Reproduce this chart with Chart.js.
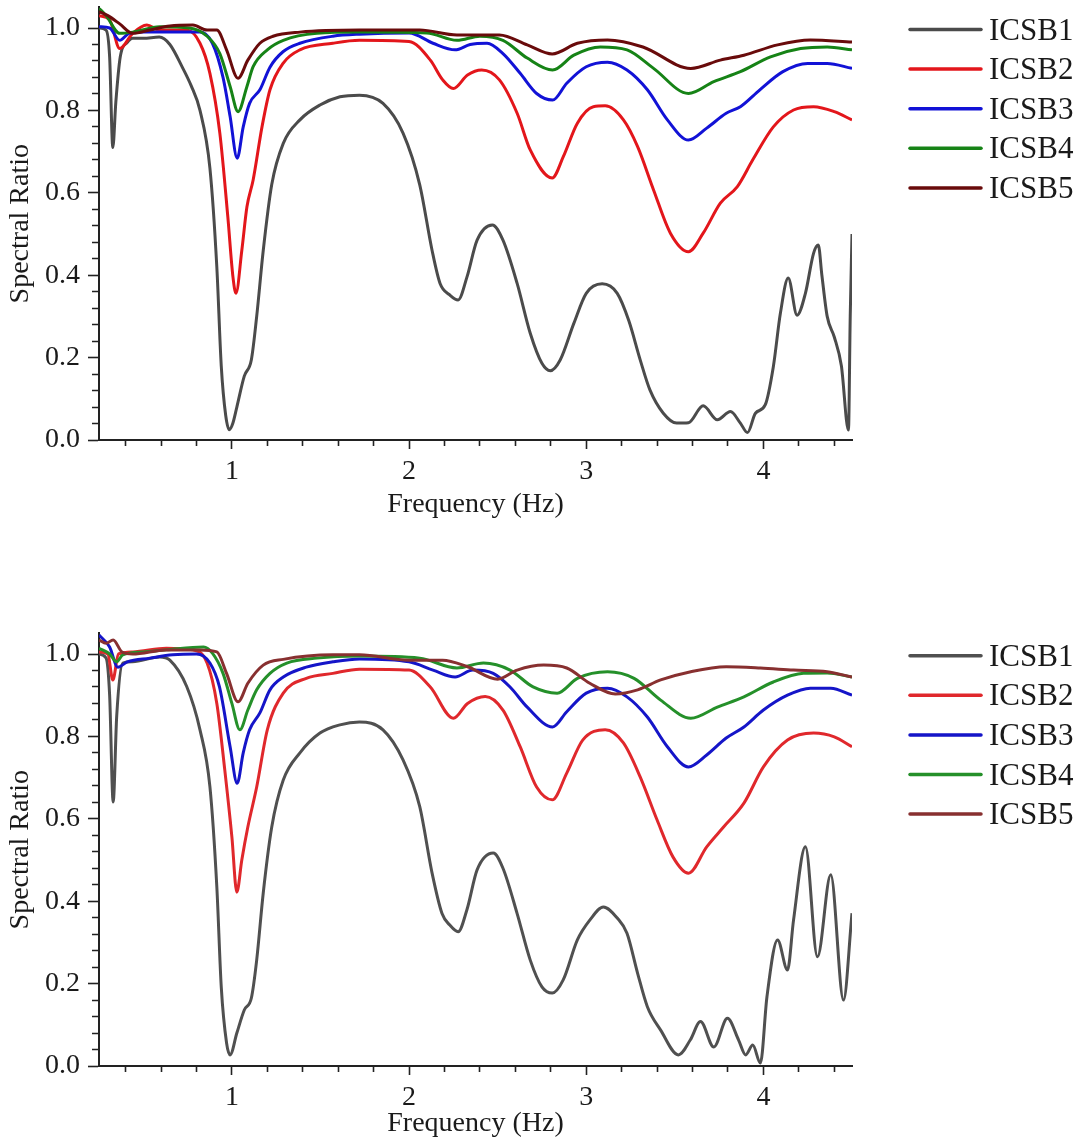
<!DOCTYPE html>
<html>
<head>
<meta charset="utf-8">
<script src="https://cdn.jsdelivr.net/npm/chart.js@4.4.1/dist/chart.umd.min.js"></script>
<style>
  html, body { margin: 0; padding: 0; background: #ffffff; }
  body { width: 1081px; height: 1140px; position: relative; overflow: hidden; }
  canvas { position: absolute; left: 0; }
</style>
</head>
<body>
<canvas id="chartTop" width="1081" height="521" style="top:0px"></canvas>
<canvas id="chartBottom" width="1081" height="600" style="top:540px"></canvas>
<script>
// ---------- labels & ticks ----------
const seriesNames = ['ICSB1', 'ICSB2', 'ICSB3', 'ICSB4', 'ICSB5'];
const xTickValues = [0.4, 0.6, 0.8, 1, 1.2, 1.4, 1.6, 1.8, 2, 2.2, 2.4, 2.6, 2.8, 3, 3.2, 3.4, 3.6, 3.8, 4, 4.2, 4.4];
const xTickLabels = ['1', '2', '3', '4'];
const yTickValues = [0, 0.04, 0.08, 0.12, 0.16, 0.2, 0.24, 0.28, 0.32, 0.36, 0.4, 0.44, 0.48, 0.52, 0.56, 0.6, 0.64, 0.68, 0.72, 0.76, 0.8, 0.84, 0.88, 0.92, 0.96, 1.0];
const yTickLabels = ['0.0', '0.2', '0.4', '0.6', '0.8', '1.0'];

// ---------- upper panel ----------
const top1Freq = [0.25, 0.29, 0.31, 0.328, 0.345, 0.37, 0.41, 0.44, 0.5, 0.59, 0.65, 0.72, 0.77, 0.82, 0.876, 0.915, 0.94, 0.965, 0.985, 1.005, 1.028, 1.07, 1.11, 1.14, 1.177, 1.225, 1.29, 1.384, 1.497, 1.61, 1.72, 1.853, 1.966, 2.06, 2.13, 2.175, 2.23, 2.277, 2.327, 2.384, 2.47, 2.53, 2.61, 2.684, 2.75, 2.797, 2.853, 2.93, 3.0, 3.09, 3.175, 3.24, 3.305, 3.36, 3.435, 3.51, 3.577, 3.66, 3.74, 3.814, 3.87, 3.91, 3.955, 4.01, 4.056, 4.096, 4.14, 4.19, 4.237, 4.283, 4.31, 4.33, 4.36, 4.40, 4.44, 4.48, 4.49, 4.5];
const top1Ratio = [1.0, 0.995, 0.93, 0.71, 0.82, 0.93, 0.965, 0.975, 0.975, 0.978, 0.96, 0.905, 0.86, 0.80, 0.66, 0.42, 0.18, 0.06, 0.025, 0.04, 0.08, 0.155, 0.195, 0.30, 0.46, 0.62, 0.72, 0.777, 0.813, 0.833, 0.837, 0.817, 0.745, 0.62, 0.46, 0.38, 0.352, 0.34, 0.396, 0.485, 0.522, 0.485, 0.38, 0.259, 0.186, 0.168, 0.194, 0.283, 0.356, 0.379, 0.356, 0.29, 0.194, 0.121, 0.065, 0.041, 0.042, 0.083, 0.049, 0.069, 0.041, 0.018, 0.065, 0.085, 0.178, 0.308, 0.393, 0.303, 0.356, 0.453, 0.473, 0.40, 0.30, 0.25, 0.18, 0.024, 0.3, 0.5];

const top2Freq = [0.25, 0.31, 0.367, 0.44, 0.52, 0.593, 0.745, 0.82, 0.876, 0.932, 0.977, 1.006, 1.023, 1.056, 1.085, 1.12, 1.17, 1.215, 1.29, 1.384, 1.57, 1.72, 2.0, 2.12, 2.19, 2.25, 2.33, 2.41, 2.51, 2.61, 2.684, 2.808, 2.87, 2.95, 3.04, 3.107, 3.21, 3.29, 3.38, 3.475, 3.577, 3.66, 3.757, 3.853, 3.94, 4.056, 4.17, 4.283, 4.4, 4.5];
const top2Ratio = [1.03, 1.02, 0.95, 0.987, 1.007, 0.995, 0.995, 0.963, 0.89, 0.745, 0.542, 0.396, 0.356, 0.46, 0.566, 0.631, 0.76, 0.85, 0.915, 0.947, 0.963, 0.97, 0.967, 0.922, 0.874, 0.853, 0.886, 0.898, 0.874, 0.793, 0.704, 0.636, 0.687, 0.769, 0.809, 0.811, 0.777, 0.712, 0.607, 0.502, 0.457, 0.502, 0.575, 0.615, 0.68, 0.76, 0.801, 0.809, 0.797, 0.777];

const top3Freq = [0.25, 0.31, 0.367, 0.42, 0.5, 0.82, 0.89, 0.95, 0.99, 1.03, 1.064, 1.10, 1.158, 1.215, 1.29, 1.384, 1.57, 1.72, 2.0, 2.135, 2.26, 2.345, 2.44, 2.53, 2.627, 2.72, 2.81, 2.89, 3.0, 3.12, 3.23, 3.345, 3.458, 3.577, 3.68, 3.79, 3.87, 3.98, 4.11, 4.25, 4.36, 4.5];
const top3Ratio = [1.003, 1.0, 0.97, 0.987, 0.99, 0.99, 0.963, 0.88, 0.785, 0.684, 0.76, 0.817, 0.85, 0.905, 0.943, 0.963, 0.98, 0.985, 0.988, 0.963, 0.947, 0.96, 0.963, 0.938, 0.89, 0.841, 0.825, 0.866, 0.906, 0.917, 0.898, 0.85, 0.777, 0.728, 0.757, 0.793, 0.809, 0.85, 0.894, 0.914, 0.914, 0.902];

const top4Freq = [0.25, 0.29, 0.367, 0.44, 0.593, 0.76, 0.86, 0.932, 0.99, 1.035, 1.085, 1.12, 1.2, 1.29, 1.48, 1.72, 2.1, 2.27, 2.4, 2.53, 2.667, 2.81, 2.93, 3.08, 3.23, 3.38, 3.577, 3.72, 3.87, 4.04, 4.21, 4.36, 4.5];
const top4Ratio = [1.048, 1.03, 0.987, 0.99, 1.003, 1.0, 0.98, 0.938, 0.858, 0.797, 0.858, 0.906, 0.947, 0.97, 0.987, 0.99, 0.988, 0.97, 0.98, 0.97, 0.927, 0.898, 0.934, 0.954, 0.947, 0.902, 0.841, 0.87, 0.894, 0.93, 0.95, 0.954, 0.947];

const top5Freq = [0.25, 0.30, 0.367, 0.44, 0.537, 0.65, 0.78, 0.86, 0.915, 0.97, 1.035, 1.09, 1.158, 1.232, 1.384, 1.72, 2.06, 2.27, 2.51, 2.667, 2.808, 2.95, 3.12, 3.32, 3.59, 3.757, 3.89, 4.08, 4.265, 4.5];
const top5Ratio = [1.04, 1.03, 1.01, 0.987, 0.995, 1.005, 1.007, 0.995, 0.995, 0.947, 0.878, 0.922, 0.963, 0.98, 0.99, 0.995, 0.995, 0.983, 0.983, 0.959, 0.937, 0.963, 0.971, 0.954, 0.902, 0.922, 0.934, 0.959, 0.971, 0.966];

// ---------- lower panel ----------
const bot1Freq = [0.25, 0.29, 0.31, 0.33, 0.35, 0.384, 0.44, 0.593, 0.65, 0.745, 0.82, 0.876, 0.915, 0.94, 0.97, 0.99, 1.028, 1.07, 1.11, 1.14, 1.177, 1.225, 1.29, 1.384, 1.497, 1.61, 1.72, 1.853, 1.966, 2.06, 2.13, 2.186, 2.23, 2.277, 2.327, 2.384, 2.475, 2.53, 2.61, 2.684, 2.75, 2.808, 2.87, 2.95, 3.02, 3.097, 3.175, 3.23, 3.29, 3.345, 3.42, 3.52, 3.587, 3.645, 3.72, 3.797, 3.86, 3.9, 3.94, 3.983, 4.02, 4.08, 4.136, 4.17, 4.237, 4.305, 4.38, 4.452, 4.5];
const bot1Ratio = [1.0, 0.99, 0.9, 0.641, 0.85, 0.978, 0.981, 0.993, 0.985, 0.921, 0.816, 0.678, 0.435, 0.192, 0.056, 0.027, 0.08, 0.136, 0.165, 0.257, 0.42, 0.58, 0.694, 0.76, 0.808, 0.828, 0.835, 0.816, 0.743, 0.63, 0.468, 0.37, 0.342, 0.326, 0.38, 0.476, 0.517, 0.48, 0.37, 0.257, 0.192, 0.177, 0.209, 0.306, 0.354, 0.386, 0.359, 0.322, 0.225, 0.144, 0.087, 0.027, 0.063, 0.108, 0.046, 0.116, 0.063, 0.027, 0.051, 0.007, 0.168, 0.306, 0.233, 0.354, 0.532, 0.265, 0.464, 0.16, 0.371];

const bot2Freq = [0.25, 0.3, 0.328, 0.36, 0.44, 0.63, 0.78, 0.86, 0.915, 0.96, 1.0, 1.028, 1.056, 1.09, 1.14, 1.2, 1.29, 1.42, 1.57, 1.72, 2.0, 2.12, 2.25, 2.33, 2.43, 2.53, 2.627, 2.72, 2.808, 2.89, 2.98, 3.107, 3.21, 3.305, 3.4, 3.49, 3.577, 3.68, 3.775, 3.89, 4.0, 4.136, 4.283, 4.4, 4.5];
const bot2Ratio = [1.005, 1.0, 0.937, 1.0, 1.005, 1.014, 1.01, 0.978, 0.88, 0.718, 0.556, 0.422, 0.5, 0.58, 0.677, 0.816, 0.905, 0.941, 0.953, 0.963, 0.961, 0.92, 0.844, 0.88, 0.897, 0.864, 0.775, 0.677, 0.646, 0.711, 0.791, 0.816, 0.784, 0.701, 0.597, 0.507, 0.468, 0.532, 0.58, 0.638, 0.726, 0.791, 0.808, 0.799, 0.775];

const bot3Freq = [0.25, 0.31, 0.356, 0.41, 0.537, 0.666, 0.8, 0.876, 0.93, 0.99, 1.03, 1.064, 1.10, 1.158, 1.215, 1.29, 1.42, 1.57, 1.72, 2.0, 2.135, 2.26, 2.36, 2.475, 2.57, 2.667, 2.81, 2.89, 3.0, 3.12, 3.23, 3.345, 3.458, 3.577, 3.68, 3.79, 3.89, 4.0, 4.136, 4.265, 4.38, 4.5];
const bot3Ratio = [1.046, 1.017, 0.968, 0.981, 0.99, 0.998, 1.0, 0.978, 0.92, 0.775, 0.686, 0.76, 0.816, 0.857, 0.913, 0.944, 0.968, 0.981, 0.988, 0.981, 0.961, 0.944, 0.961, 0.953, 0.92, 0.871, 0.823, 0.86, 0.905, 0.917, 0.896, 0.847, 0.775, 0.726, 0.755, 0.796, 0.823, 0.864, 0.9, 0.917, 0.917, 0.9];

const bot4Freq = [0.25, 0.31, 0.35, 0.384, 0.5, 0.63, 0.84, 0.89, 0.95, 1.0, 1.045, 1.09, 1.14, 1.215, 1.31, 1.48, 1.72, 2.06, 2.27, 2.42, 2.57, 2.70, 2.836, 2.95, 3.12, 3.27, 3.42, 3.59, 3.74, 3.89, 4.056, 4.226, 4.36, 4.5];
const bot4Ratio = [1.014, 1.0, 0.981, 0.998, 1.005, 1.01, 1.017, 1.002, 0.953, 0.88, 0.816, 0.864, 0.913, 0.953, 0.978, 0.99, 0.995, 0.99, 0.966, 0.978, 0.961, 0.92, 0.905, 0.941, 0.957, 0.941, 0.888, 0.844, 0.871, 0.896, 0.932, 0.953, 0.954, 0.944];

const bot5Freq = [0.25, 0.29, 0.33, 0.38, 0.44, 0.63, 0.82, 0.915, 0.97, 1.035, 1.09, 1.177, 1.29, 1.57, 1.72, 2.0, 2.19, 2.33, 2.5, 2.61, 2.76, 2.89, 3.02, 3.164, 3.29, 3.42, 3.59, 3.79, 3.983, 4.17, 4.36, 4.5];
const bot5Ratio = [1.034, 1.026, 1.034, 1.005, 1.0, 1.01, 1.01, 1.005, 0.953, 0.884, 0.929, 0.973, 0.987, 0.998, 0.998, 0.985, 0.985, 0.969, 0.939, 0.961, 0.973, 0.966, 0.929, 0.903, 0.913, 0.937, 0.957, 0.969, 0.966, 0.961, 0.957, 0.944];

const topColors = ['#4b4b4b', '#e3161b', '#1212d6', '#168316', '#690b0b'];
const bottomColors = ['#505050', '#e0282c', '#1515c8', '#25902a', '#883030'];

// ---------- helpers ----------
const FONT = 'Liberation Serif';
const TEXT = '#1a1a1a';
const AXIS = '#222222';
const near = (a, b) => Math.abs(a - b) < 1e-6;
const isMajorX = v => xTickLabels.some(l => near(parseFloat(l), v));
const isMajorY = v => yTickLabels.some(l => near(parseFloat(l), v));

function pts(fx, vy) { return fx.map((x, i) => ({ x: x, y: vy[i] })); }

function makeDatasets(freqs, ratios, colors) {
  return seriesNames.map((name, i) => ({
    label: name,
    data: pts(freqs[i], ratios[i]),
    borderColor: colors[i],
    backgroundColor: colors[i],
    borderWidth: 3,
    pointRadius: 0,
    fill: false,
    cubicInterpolationMode: 'monotone',
    order: seriesNames.length - i
  }));
}

const sideLegend = {
  id: 'sideLegend',
  afterDraw(chart, args, opts) {
    const ctx = chart.ctx;
    ctx.save();
    chart.data.datasets.forEach((ds, i) => {
      const y = opts.firstY + i * opts.step;
      ctx.strokeStyle = ds.borderColor;
      ctx.lineWidth = 3.5;
      ctx.lineCap = 'round';
      ctx.beginPath();
      ctx.moveTo(opts.lineX0, y);
      ctx.lineTo(opts.lineX1, y);
      ctx.stroke();
      ctx.fillStyle = TEXT;
      ctx.font = opts.fontSize + 'px "' + FONT + '"';
      ctx.textAlign = 'left';
      ctx.textBaseline = 'middle';
      ctx.fillText(ds.label, opts.textX, y + 2);
    });
    ctx.restore();
  }
};

function makeChart(canvasId, datasets, padTop, xHeight, legendFirstY) {
  return new Chart(document.getElementById(canvasId), {
    type: 'line',
    data: { datasets: datasets },
    plugins: [sideLegend],
    options: {
      responsive: false,
      animation: false,
      devicePixelRatio: 1,
      layout: { padding: { left: 4, right: 229, top: padTop, bottom: 0 } },
      plugins: {
        legend: { display: false },
        tooltip: { enabled: false },
        sideLegend: { firstY: legendFirstY, step: 39.6, lineX0: 910, lineX1: 981, textX: 989, fontSize: 31 }
      },
      scales: {
        x: {
          type: 'linear',
          min: 0.25,
          max: 4.5,
          afterBuildTicks: s => { s.ticks = xTickValues.map(v => ({ value: v })); },
          afterFit: s => { s.height = xHeight; s.paddingLeft = 0; s.paddingRight = 0; },
          border: { display: true, color: AXIS, width: 2 },
          grid: {
            drawOnChartArea: false,
            drawTicks: true,
            tickLength: 9,
            tickWidth: 1.6,
            tickColor: AXIS,
            tickBorderDash: c => isMajorX(c.tick.value) ? [] : [5, 50]
          },
          ticks: {
            autoSkip: false,
            maxRotation: 0,
            padding: 6,
            color: TEXT,
            font: { family: FONT, size: 28 },
            callback: v => { const l = xTickLabels.find(t => near(parseFloat(t), v)); return l === undefined ? '' : l; }
          },
          title: { display: true, text: 'Frequency (Hz)', color: TEXT, font: { family: FONT, size: 28 }, padding: 0 }
        },
        y: {
          type: 'linear',
          min: 0,
          max: 1.05,
          afterBuildTicks: s => { s.ticks = yTickValues.map(v => ({ value: v })); },
          afterFit: s => { s.width = 95; s.paddingTop = 0; s.paddingBottom = 0; },
          border: { display: true, color: AXIS, width: 2 },
          grid: {
            drawOnChartArea: false,
            drawTicks: true,
            tickLength: 11,
            tickWidth: 1.6,
            tickColor: AXIS,
            tickBorderDash: c => isMajorY(c.tick.value) ? [] : [0, 4, 50]
          },
          ticks: {
            autoSkip: false,
            padding: 8,
            color: TEXT,
            font: { family: FONT, size: 28 },
            callback: v => { const l = yTickLabels.find(t => near(parseFloat(t), v)); return l === undefined ? '' : l; }
          },
          title: { display: true, text: 'Spectral Ratio', color: TEXT, font: { family: FONT, size: 28 }, padding: 0 }
        }
      }
    }
  });
}

makeChart('chartTop',
  makeDatasets([top1Freq, top2Freq, top3Freq, top4Freq, top5Freq],
               [top1Ratio, top2Ratio, top3Ratio, top4Ratio, top5Ratio], topColors),
  7.4, 81, 29.5);

makeChart('chartBottom',
  makeDatasets([bot1Freq, bot2Freq, bot3Freq, bot4Freq, bot5Freq],
               [bot1Ratio, bot2Ratio, bot3Ratio, bot4Ratio, bot5Ratio], bottomColors),
  93.4, 74, 115.7);
</script>
</body>
</html>
